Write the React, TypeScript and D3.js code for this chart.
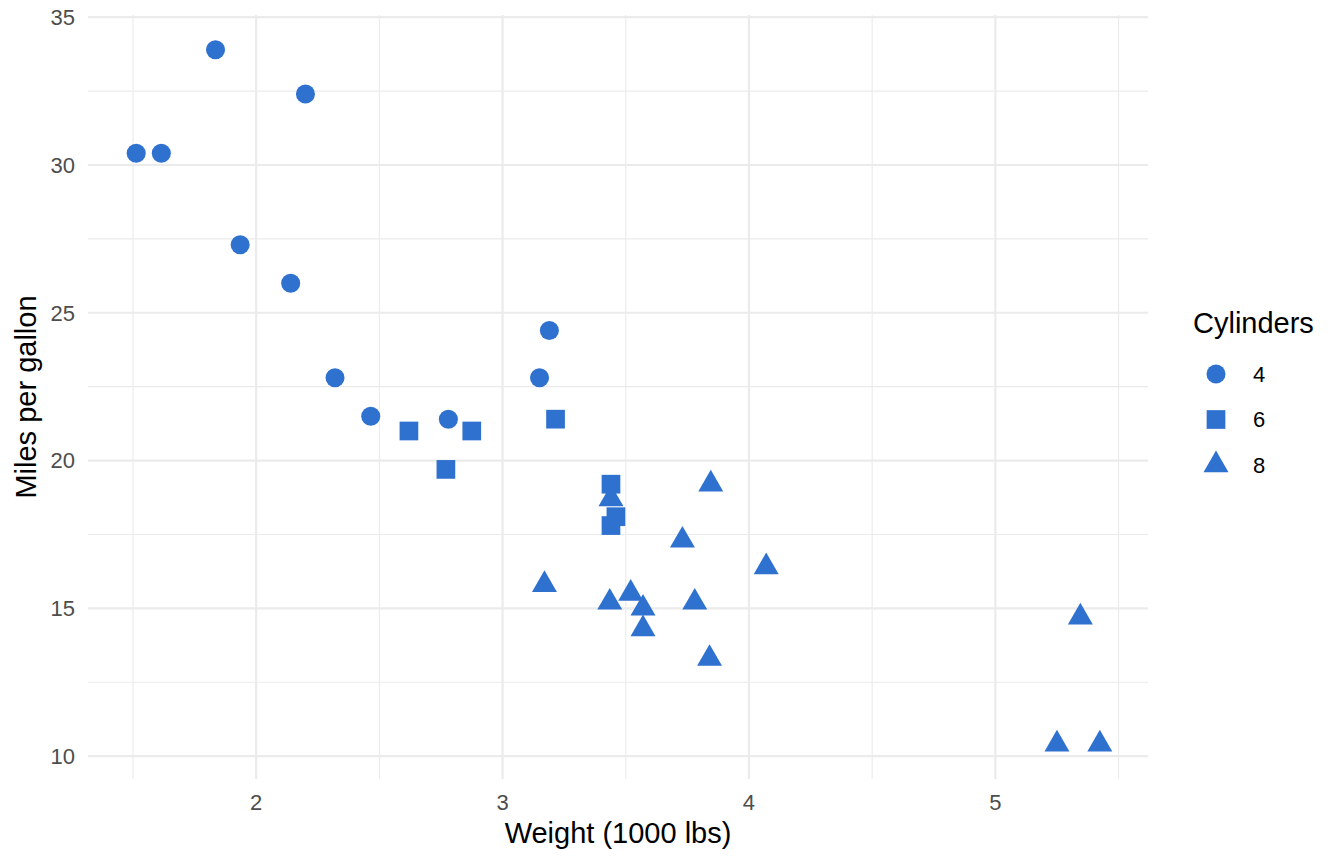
import * as d3 from "d3";

const WIDTH = 1344;
const HEIGHT = 864;
const MARGIN = { top: 15, right: 196, bottom: 85, left: 88 };
const INNER_W = WIDTH - MARGIN.left - MARGIN.right;
const INNER_H = HEIGHT - MARGIN.top - MARGIN.bottom;

const COLOR = "#2F71CF";
const GRID = "#EBEBEB";
const FONT = "'Liberation Sans', Arial, sans-serif";

// mtcars: weight (1000 lbs), mpg, cylinders
const weights = [
  2.62, 2.875, 2.32, 3.215, 3.44, 3.46, 3.57, 3.19, 3.15, 3.44, 3.44, 4.07, 3.73,
  3.78, 5.25, 5.424, 5.345, 2.2, 1.615, 1.835, 2.465, 3.52, 3.435, 3.84, 3.845,
  1.935, 2.14, 1.513, 3.17, 2.77, 3.57, 2.78,
];
const mpgs = [
  21.0, 21.0, 22.8, 21.4, 18.7, 18.1, 14.3, 24.4, 22.8, 19.2, 17.8, 16.4, 17.3,
  15.2, 10.4, 10.4, 14.7, 32.4, 30.4, 33.9, 21.5, 15.5, 15.2, 13.3, 19.2, 27.3,
  26.0, 30.4, 15.8, 19.7, 15.0, 21.4,
];
const cylinders = [
  6, 6, 4, 6, 8, 6, 8, 4, 4, 6, 6, 8, 8, 8, 8, 8, 8, 4, 4, 4, 4, 8, 8, 8, 8, 4, 4,
  4, 8, 6, 8, 4,
];
const cylLevels = [4, 6, 8];
const xTicks = [2, 3, 4, 5];
const xMinor = [1.5, 2.5, 3.5, 4.5, 5.5];
const yTicks = [10, 15, 20, 25, 30, 35];
const yMinor = [12.5, 17.5, 22.5, 27.5, 32.5];

const xExt = d3.extent(weights) as [number, number];
const yExt = d3.extent(mpgs) as [number, number];
const xPad = (xExt[1] - xExt[0]) * 0.05;
const yPad = (yExt[1] - yExt[0]) * 0.05;

const x = d3.scaleLinear().domain([xExt[0] - xPad, xExt[1] + xPad]).range([0, INNER_W]);
const y = d3.scaleLinear().domain([yExt[0] - yPad, yExt[1] + yPad]).range([INNER_H, 0]);

const circle = d3.symbol(d3.symbolCircle, 285);
const square = d3.symbol(d3.symbolSquare, 350);
const triangle = d3.symbol(d3.symbolTriangle, 270);

function shapeFor(cyl: number) {
  if (cyl === 4) return circle() as string;
  if (cyl === 6) return square() as string;
  return triangle() as string;
}

export default function App() {
  const data = weights.map((w, i) => ({ wt: w, mpg: mpgs[i], cyl: cylinders[i] }));
  return (
    <svg width={WIDTH} height={HEIGHT} style={{ position: "absolute", left: 0, top: 0 }}>
      <g transform={`translate(${MARGIN.left},${MARGIN.top})`}>
        {xMinor.map((t) => (
          <line key={`xm${t}`} x1={x(t)} x2={x(t)} y1={0} y2={INNER_H} stroke={GRID} strokeWidth={1.1} />
        ))}
        {yMinor.map((t) => (
          <line key={`ym${t}`} x1={0} x2={INNER_W} y1={y(t)} y2={y(t)} stroke={GRID} strokeWidth={1.1} />
        ))}
        {xTicks.map((t) => (
          <line key={`xM${t}`} x1={x(t)} x2={x(t)} y1={0} y2={INNER_H} stroke={GRID} strokeWidth={2.2} />
        ))}
        {yTicks.map((t) => (
          <line key={`yM${t}`} x1={0} x2={INNER_W} y1={y(t)} y2={y(t)} stroke={GRID} strokeWidth={2.2} />
        ))}

        {xTicks.map((t) => (
          <text key={`xl${t}`} x={x(t)} y={INNER_H + 31} textAnchor="middle"
            fontFamily={FONT} fontSize={22} fill="#4D4D4D">{t}</text>
        ))}
        {yTicks.map((t) => (
          <text key={`yl${t}`} x={-13} y={y(t)} dy="0.36em" textAnchor="end"
            fontFamily={FONT} fontSize={22} fill="#4D4D4D">{t}</text>
        ))}

        {data.map((d, i) => (
          <path key={i} d={shapeFor(d.cyl)} fill={COLOR}
            transform={`translate(${x(d.wt)},${y(d.mpg)})`} />
        ))}

        <text x={INNER_W / 2} y={INNER_H + 64} textAnchor="middle"
          fontFamily={FONT} fontSize={29} fill="#000">Weight (1000 lbs)</text>
        <text transform={`translate(${-52},${INNER_H / 2}) rotate(-90)`} textAnchor="middle"
          fontFamily={FONT} fontSize={29} fill="#000">Miles per gallon</text>
      </g>

      <g transform="translate(1193,0)">
        <text x={0} y={333} fontFamily={FONT} fontSize={29} fill="#000">Cylinders</text>
        {cylLevels.map((c, i) => (
          <g key={c} transform={`translate(0,${374 + i * 45.5})`}>
            <path d={shapeFor(c)} fill={COLOR} transform="translate(23,0)" />
            <text x={60} y={0} dy="0.36em" fontFamily={FONT} fontSize={22} fill="#000">{c}</text>
          </g>
        ))}
      </g>
    </svg>
  );
}
